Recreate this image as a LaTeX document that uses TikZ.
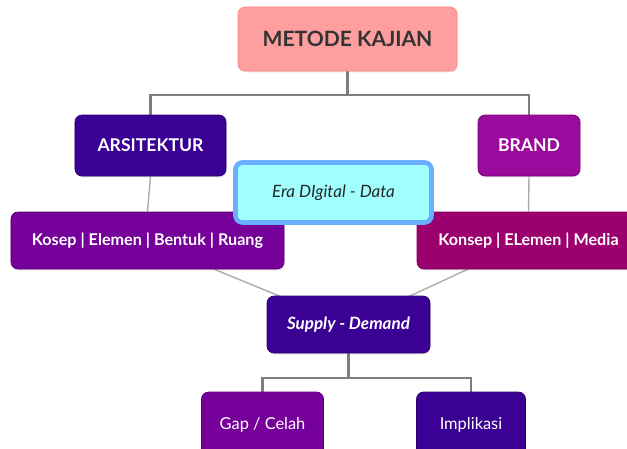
\documentclass[tikz,border=0pt]{standalone}
\usepackage{fontspec}
\setmainfont{Lato}
\usetikzlibrary{positioning,shadows,backgrounds}

\definecolor{pinkbox}{HTML}{FF9E9E}
\definecolor{indigobox}{HTML}{3B0094}
\definecolor{violetbox}{HTML}{76009A}
\definecolor{magentabox}{HTML}{9A0A9C}
\definecolor{wine}{HTML}{9C006E}
\definecolor{cyanbox}{HTML}{A0FFFF}
\definecolor{cyanrim}{HTML}{6AAEFF}
\definecolor{trunkgray}{HTML}{7E7E7E}

\begin{document}
\begin{tikzpicture}[
		x=0.03cm, y=-0.03cm,
		box/.style={rounded corners=6pt, align=center, text=white, fill=#1, draw=#1!75!black,
			line width=0.6pt, font=\bfseries\fontsize{15}{17}\selectfont,
			drop shadow={opacity=0.2, shadow xshift=0.6pt, shadow yshift=-1.2pt}},
		leaf/.style={box=#1, font=\fontsize{14}{16}\selectfont},
		trunk/.style={draw=trunkgray, line width=2.4pt},
		twig/.style={draw=gray!65, line width=1.2pt},
	]
		\useasboundingbox (0,0) rectangle (627,448);
		\node [box=pinkbox, text=black!80, font=\bfseries\fontsize{18}{21}\selectfont, draw=pinkbox!85!red,
			minimum width=6.57cm, minimum height=1.92cm] (metode) at (347.5,39) {METODE KAJIAN};
		\node [box=indigobox, minimum width=4.53cm, minimum height=1.83cm] (arsi) at (150.5,145.5) {ARSITEKTUR};
		\node [box=magentabox, minimum width=3.06cm, minimum height=1.83cm] (brand) at (529,145.5) {BRAND};
		\node [box=violetbox, font=\bfseries\fontsize{13.8}{16}\selectfont,
			minimum width=8.19cm, minimum height=1.71cm] (kosep) at (147.5,240.5) {Kosep | Elemen | Bentuk | Ruang};
		\node [box=wine, font=\bfseries\fontsize{13.8}{16}\selectfont,
			minimum width=6.69cm, minimum height=1.71cm] (konsep) at (528.5,240.5) {Konsep | ELemen | Media};
		\node [box=cyanbox, draw=cyanrim, line width=4pt, text=black!85, font=\itshape\fontsize{14.5}{17}\selectfont,
			minimum width=5.88cm, minimum height=1.8cm] (era) at (333.5,192.5) {Era DIgital - Data};
		\node [box=indigobox, font=\bfseries\itshape\fontsize{14.5}{17}\selectfont,
			minimum width=4.89cm, minimum height=1.71cm] (supply) at (348.5,324.5) {Supply - Demand};
		\node [leaf=violetbox, minimum width=3.66cm, minimum height=1.98cm] (gap) at (262.5,425) {Gap / Celah};
		\node [leaf=indigobox, minimum width=3.27cm, minimum height=1.98cm] (impl) at (471,425) {Implikasi};

		\coordinate (topsplit) at (347.5,95);
		\coordinate (lowsplit) at (348.5,378);

		\begin{scope}[on background layer]
			\draw [trunk] (metode.south) -- (topsplit);
			\draw [trunk] (arsi.north) |- (topsplit) -| (brand.north);
			\draw [twig] (arsi.south) -- (kosep.north);
			\draw [twig] (brand.south) -- (konsep.north);
			\draw [twig] ([xshift=2.01cm]kosep.south) -- (supply.center);
			\draw [twig] ([xshift=-1.83cm]konsep.south) -- (supply.center);
			\draw [trunk] (supply.south) -- (lowsplit);
			\draw [trunk] (gap.north) |- (lowsplit) -| (impl.north);
		\end{scope}
	\end{tikzpicture}
\end{document}
